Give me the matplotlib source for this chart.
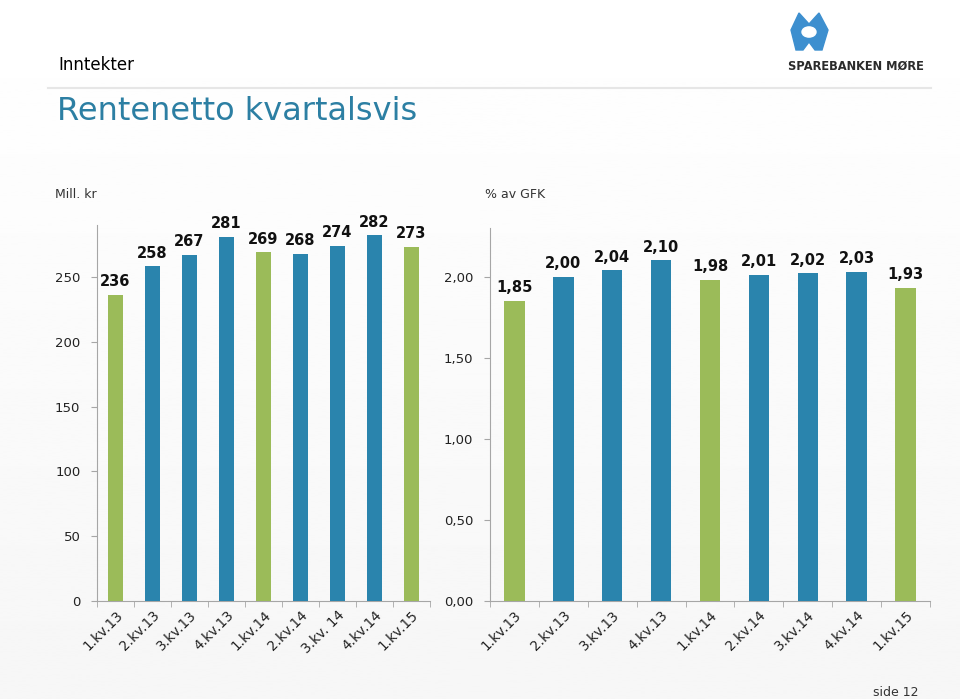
import numpy as np
import matplotlib
matplotlib.use("Agg")
from matplotlib import pyplot as plt
from matplotlib.patches import Polygon, Circle

# data
quarters_left = ["1.kv.13", "2.kv.13", "3.kv.13", "4.kv.13", "1.kv.14",
                 "2.kv.14", "3.kv. 14", "4.kv.14", "1.kv.15"]
quarters_right = ["1.kv.13", "2.kv.13", "3.kv.13", "4.kv.13", "1.kv.14",
                  "2.kv.14", "3.kv.14", "4.kv.14", "1.kv.15"]
mill_kr = [236, 258, 267, 281, 269, 268, 274, 282, 273]
pct_gfk = [1.85, 2.00, 2.04, 2.10, 1.98, 2.01, 2.02, 2.03, 1.93]
is_q1 = [True, False, False, False, True, False, False, False, True]

green = "#9BBB59"
blue = "#2A84AD"
title_blue = "#2C7FA3"
axis_grey = "#A6A6A6"

plt.rcParams['font.family'] = ['DejaVu Sans']

fig = plt.figure(figsize=(9.6, 6.99), dpi=100)

# background, slight gradient to grey
bg = fig.add_axes([0, 0, 1, 1], zorder=-10)
grad = np.linspace(1.0, 0.965, 256).reshape(-1, 1)
bg.imshow(grad, cmap="gray", vmin=0, vmax=1, aspect="auto", extent=[0, 1, 0, 1])
bg.axhline(1 - 88 / 699, xmin=0.05, xmax=0.97, color="#E6E6E6", lw=1.5)
bg.set_xlim(0, 1)
bg.set_ylim(0, 1)
bg.axis("off")

# logo (simple)
sx, sy = 1 / 960, 1 / 699
def px(x, y):
    return (x * sx, 1 - y * sy)
mount = [px(791, 30), px(799, 13), px(809, 24), px(819, 13), px(828, 30),
         px(822, 50), px(815, 50), px(809, 42), px(803, 50), px(796, 50)]
bg.add_patch(Polygon(mount, closed=True, color="#3D8FCF", transform=bg.transAxes))
bg.add_patch(Circle(px(809, 32), 7 * sx, color="white", transform=bg.transAxes))
bg.text(*px(856, 66), "SPAREBANKEN MØRE", ha="center", va="center",
        fontsize=8.3, fontweight="bold", color="#2B2B2B", transform=bg.transAxes)

fig.text(58 / 960, 1 - 65 / 699, "Inntekter", fontsize=12, va="center", color="black")
fig.text(57 / 960, 1 - 112 / 699, "Rentenetto kvartalsvis", fontsize=23,
         va="center", color=title_blue)
fig.text(55 / 960, 1 - 195 / 699, "Mill. kr", fontsize=9, va="center", color="#333333")
fig.text(485 / 960, 1 - 195 / 699, "% av GFK", fontsize=9, va="center", color="#333333")
fig.text(873 / 960, 1 - 692 / 699, "side 12", fontsize=9, va="center", color="#333333")

colors = [green if q else blue for q in is_q1]


def draw_panel(ax, labels, values, ymax, yticks, fmt, width):
    x = np.arange(len(values))
    ax.bar(x, values, width=width, color=colors, zorder=3)
    ax.set_xlim(-0.5, len(values) - 0.5)
    ax.set_ylim(0, ymax)
    ax.set_yticks(yticks)
    ax.set_yticklabels([fmt(v) for v in yticks], fontsize=9.5, color="#222222")
    ax.set_xticks(x)
    ax.set_xticklabels(labels, rotation=45, ha="right", rotation_mode="anchor",
                       fontsize=9.8, color="#222222")
    ax.tick_params(axis="x", length=0, pad=5)
    ax.set_xticks(np.arange(len(values) + 1) - 0.5, minor=True)
    ax.tick_params(axis="x", which="minor", length=4, color=axis_grey, direction="out")
    ax.tick_params(axis="y", length=4, color=axis_grey, direction="out", pad=8)
    for s in ["top", "right"]:
        ax.spines[s].set_visible(False)
    for s in ["left", "bottom"]:
        ax.spines[s].set_color(axis_grey)
    ax.patch.set_alpha(0)
    for xi, v in zip(x, values):
        ax.annotate(fmt(v), (xi, v), xytext=(0, 4), textcoords="offset points",
                    ha="center", va="bottom", fontsize=10.5, fontweight="bold",
                    color="#111111")


ax1 = fig.add_axes([97 / 960, 1 - 601 / 699, 333 / 960, 376 / 699])
draw_panel(ax1, quarters_left, mill_kr, 290, [0, 50, 100, 150, 200, 250],
           lambda v: f"{v:.0f}", 0.4)

ax2 = fig.add_axes([490 / 960, 1 - 601 / 699, 440 / 960, 373 / 699])
draw_panel(ax2, quarters_right, pct_gfk, 2.3, [0, 0.5, 1.0, 1.5, 2.0],
           lambda v: f"{v:.2f}".replace(".", ","), 0.42)

fig.savefig("out.png", dpi=100)
